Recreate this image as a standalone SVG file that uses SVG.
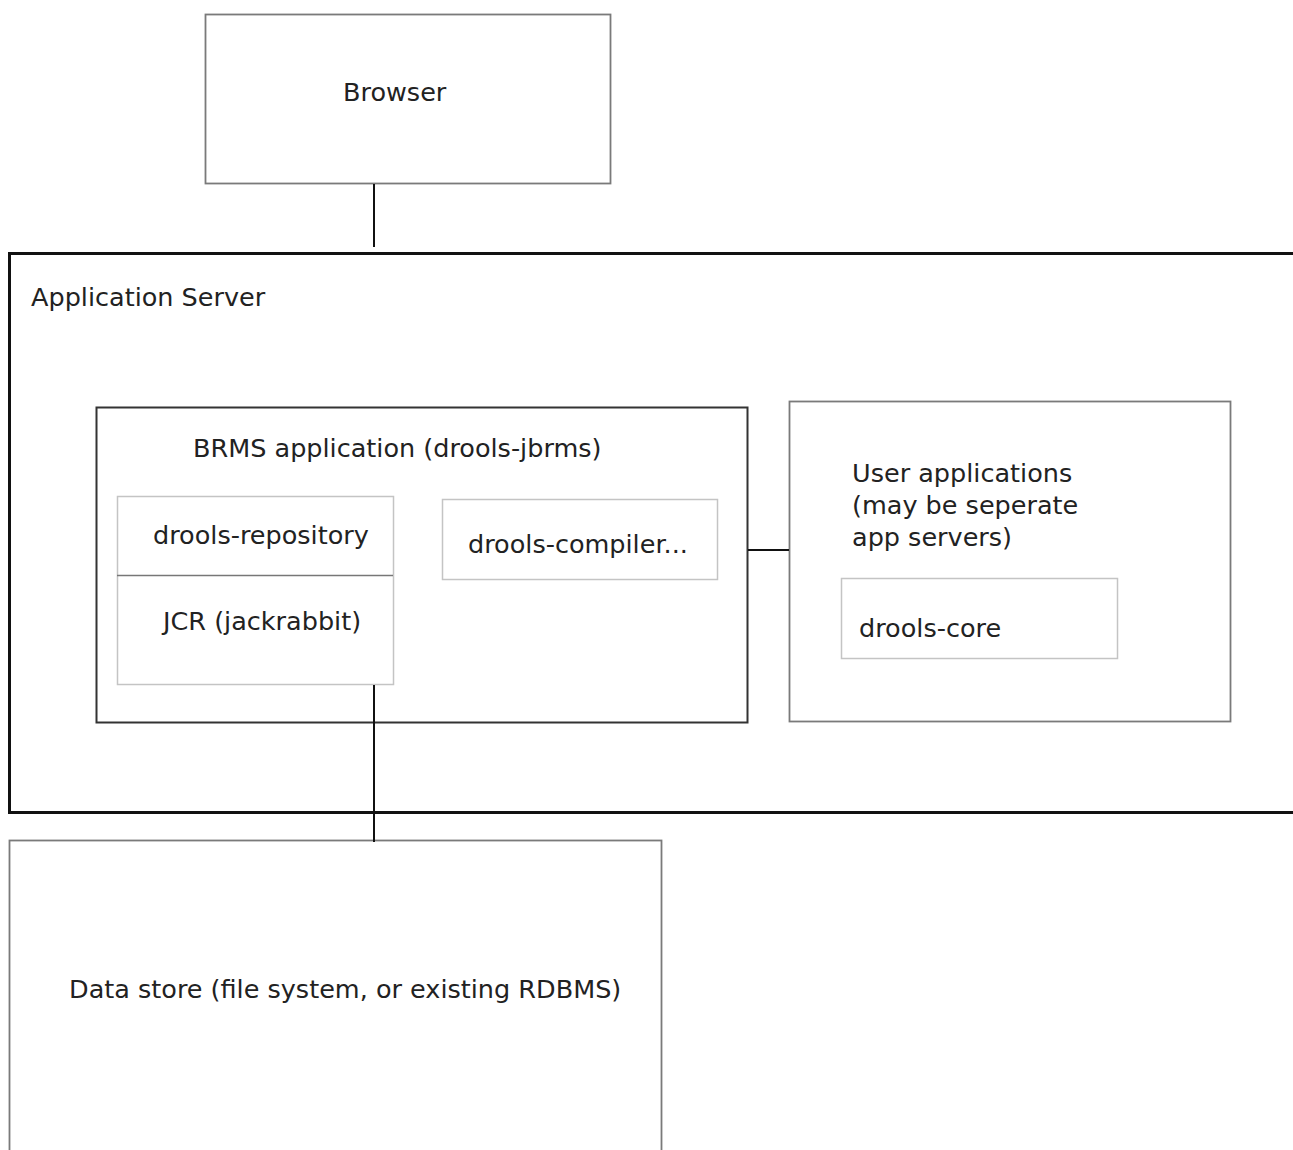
<svg xmlns="http://www.w3.org/2000/svg" width="1293" height="1150" viewBox="0 0 1293 1150">
<style>
text{font-family:"DejaVu Sans",sans-serif;font-size:25.5px;fill:#222}
.box{fill:#fff;stroke:#7a7a7a;stroke-width:1.8}
.inner{fill:#fff;stroke:#c4c4c4;stroke-width:1.5}
.server{fill:#fff;stroke:#111;stroke-width:3}
.brms{fill:#fff;stroke:#333;stroke-width:2}
.conn{stroke:#111;stroke-width:2;fill:none}
</style>
<rect width="1293" height="1150" fill="#fff"/>
<g id="browser"><rect class="box" x="205.5" y="14.5" width="405" height="169"/><text x="343" y="101">Browser</text></g>
<g id="app-server"><rect class="server" x="9.5" y="253.5" width="1300" height="559"/><text x="31" y="306">Application Server</text></g>
<g id="brms"><rect class="brms" x="96.5" y="407.5" width="651" height="315"/><text x="193" y="457">BRMS application (drools-jbrms)</text></g>
<g id="repository"><rect class="inner" x="117.5" y="496.5" width="276" height="188"/><line x1="117" y1="575.5" x2="393" y2="575.5" stroke="#777" stroke-width="1.5"/><text x="153" y="544">drools-repository</text><text x="163" y="630">JCR (jackrabbit)</text></g>
<g id="compiler"><rect class="inner" x="442.5" y="499.5" width="275" height="80"/><text x="468" y="553">drools-compiler...</text></g>
<g id="user-apps"><rect class="box" x="789.5" y="401.5" width="441" height="320"/><text x="852" y="482">User applications</text><text x="852" y="514">(may be seperate</text><text x="852" y="546">app servers)</text></g>
<g id="core"><rect class="inner" x="841.5" y="578.5" width="276" height="80"/><text x="859" y="637">drools-core</text></g>
<g id="datastore"><rect class="box" x="9.5" y="840.5" width="652" height="330"/><text x="69" y="998">Data store (file system, or existing RDBMS)</text></g>
<g id="connectors">
<line class="conn" x1="374" y1="184" x2="374" y2="247"/>
<line class="conn" x1="748" y1="550" x2="789" y2="550"/>
<line class="conn" x1="374" y1="685" x2="374" y2="842"/>
</g>
</svg>
